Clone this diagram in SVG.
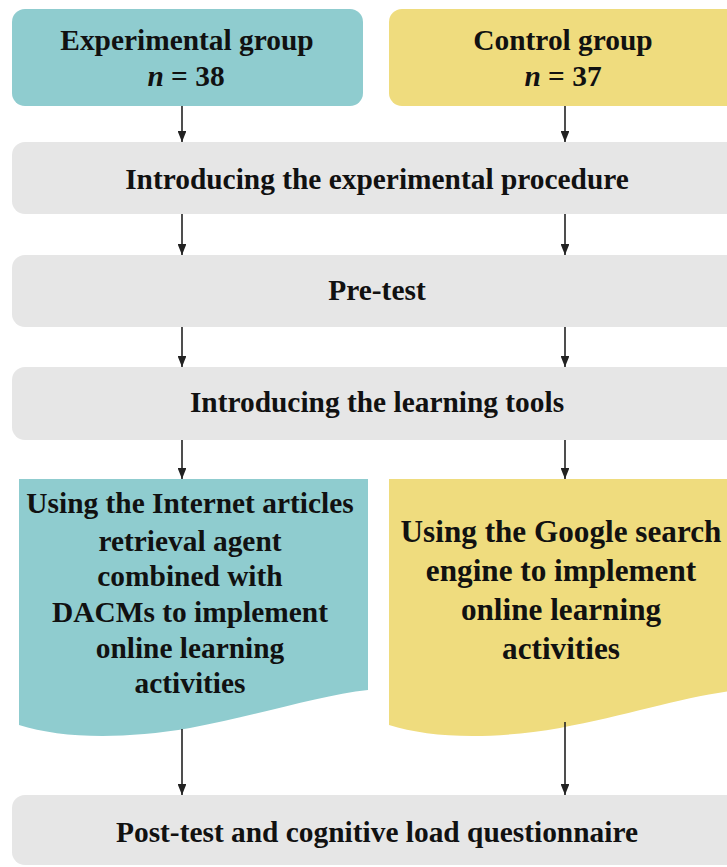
<svg xmlns="http://www.w3.org/2000/svg" width="727" height="867" viewBox="0 0 727 867">
<defs>
<style>
.t{font-family:"Liberation Serif","Times New Roman",serif;font-weight:bold;font-size:29.4px;fill:#111;text-anchor:middle}
.big{font-size:31.2px}
.teal{fill:#8FCCCF}
.yel{fill:#EFDC7E}
.gray{fill:#E6E6E6}
.c{stroke:#222;stroke-width:1.6;fill:none;marker-end:url(#ah)}
</style>
<marker id="ah" viewBox="0 0 10 10" refX="10" refY="5" markerWidth="7" markerHeight="5.6" markerUnits="strokeWidth" orient="auto" preserveAspectRatio="none">
<path d="M0,0 L10,5 L0,10 Z" fill="#222"/>
</marker>
</defs>
<rect width="727" height="867" fill="#fff"/>
<g id="exp">
<rect class="teal" x="12" y="9" width="351" height="97" rx="13"/>
<text class="t" x="187" y="50">Experimental group</text>
<text class="t" x="186" y="86"><tspan font-style="italic">n</tspan> = 38</text>
</g>
<g id="ctrl">
<rect class="yel" x="389" y="9" width="351" height="97" rx="13"/>
<text class="t" x="563" y="50">Control group</text>
<text class="t" x="563" y="86"><tspan font-style="italic">n</tspan> = 37</text>
</g>
<g id="intro">
<rect class="gray" x="12" y="142" width="730" height="72" rx="13"/>
<text class="t" x="377" y="189">Introducing the experimental procedure</text>
</g>
<g id="pretest">
<rect class="gray" x="12" y="255" width="730" height="72" rx="13"/>
<text class="t" x="377" y="300">Pre-test</text>
</g>
<g id="tools">
<rect class="gray" x="12" y="367" width="730" height="73" rx="13"/>
<text class="t" x="377" y="412">Introducing the learning tools</text>
</g>
<g id="expact">
<path class="teal" d="M19,479 H368 V690 C320,695 260,715 190,728 C120,740 60,738 19,725 Z"/>
<text class="t" x="190" y="513">Using the Internet articles</text>
<text class="t" x="190" y="551">retrieval agent</text>
<text class="t" x="190" y="586">combined with</text>
<text class="t" x="190" y="622">DACMs to implement</text>
<text class="t" x="190" y="658">online learning</text>
<text class="t" x="190" y="693">activities</text>
</g>
<g id="ctrlact">
<path class="yel" d="M389,479 H740 V690 C690,695 630,715 560,728 C490,740 430,738 389,725 Z"/>
<text class="t big" x="561" y="542">Using the Google search</text>
<text class="t big" x="561" y="581">engine to implement</text>
<text class="t big" x="561" y="620">online learning</text>
<text class="t big" x="561" y="659">activities</text>
</g>
<g id="post">
<rect class="gray" x="12" y="795" width="730" height="70" rx="13"/>
<text class="t" x="377" y="842">Post-test and cognitive load questionnaire</text>
</g>
<g id="connectors">
<line class="c" x1="182" y1="106" x2="182" y2="142"/>
<line class="c" x1="565" y1="106" x2="565" y2="142"/>
<line class="c" x1="182" y1="214" x2="182" y2="255"/>
<line class="c" x1="565" y1="214" x2="565" y2="255"/>
<line class="c" x1="182" y1="327" x2="182" y2="367"/>
<line class="c" x1="565" y1="327" x2="565" y2="367"/>
<line class="c" x1="182" y1="440" x2="182" y2="479"/>
<line class="c" x1="565" y1="440" x2="565" y2="479"/>
<line class="c" x1="182" y1="729" x2="182" y2="795"/>
<line class="c" x1="565" y1="722" x2="565" y2="795"/>
</g>
</svg>
